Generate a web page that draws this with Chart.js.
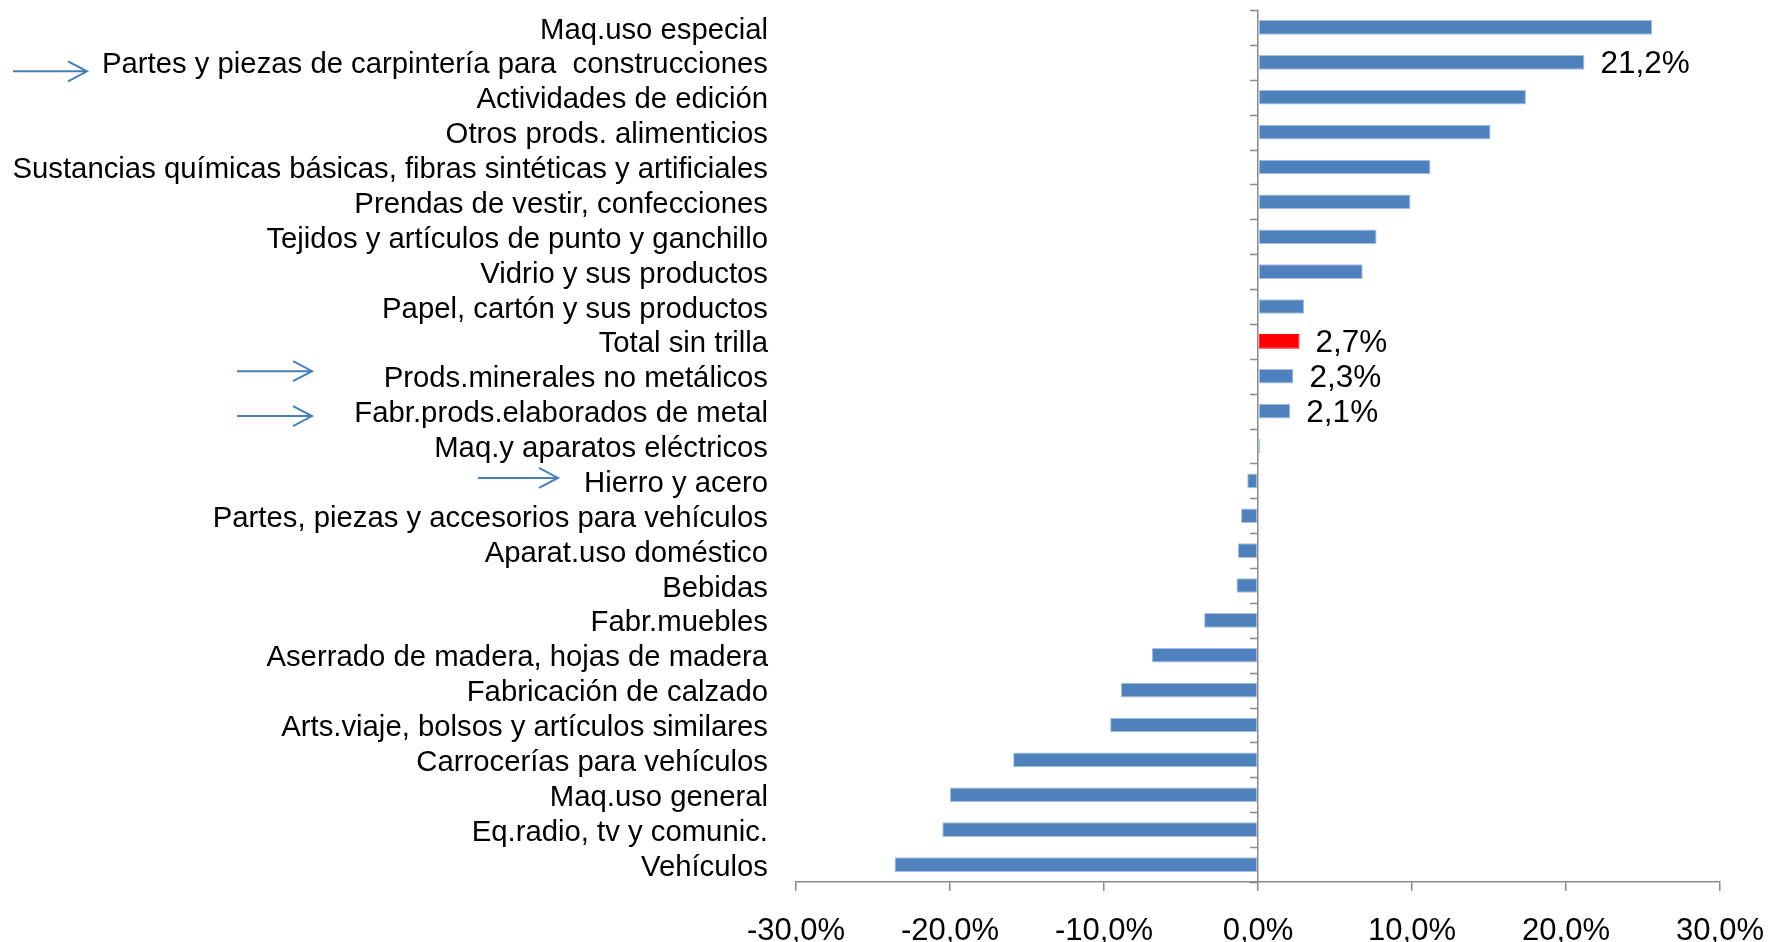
<!DOCTYPE html>
<html>
<head>
<meta charset="utf-8">
<title>Variación por actividad industrial</title>
<script src="https://cdn.jsdelivr.net/npm/chart.js@4.4.1/dist/chart.umd.min.js"></script>
<style>
  html, body { margin: 0; padding: 0; background: #fff; }
  #wrap { width: 1769px; height: 942px; }
</style>
</head>
<body>
<div id="wrap"><canvas id="chart" width="1769" height="942"></canvas></div>
<script>
// Data, top to bottom as in the chart
const categories = [
    'Maq.uso especial',
    'Partes y piezas de carpintería para  construcciones',
    'Actividades de edición',
    'Otros prods. alimenticios',
    'Sustancias químicas básicas, fibras sintéticas y artificiales',
    'Prendas de vestir, confecciones',
    'Tejidos y artículos de punto y ganchillo',
    'Vidrio y sus productos',
    'Papel, cartón y sus productos',
    'Total sin trilla',
    'Prods.minerales no metálicos',
    'Fabr.prods.elaborados de metal',
    'Maq.y aparatos eléctricos',
    'Hierro y acero',
    'Partes, piezas y accesorios para vehículos',
    'Aparat.uso doméstico',
    'Bebidas',
    'Fabr.muebles',
    'Aserrado de madera, hojas de madera',
    'Fabricación de calzado',
    'Arts.viaje, bolsos y artículos similares',
    'Carrocerías para vehículos',
    'Maq.uso general',
    'Eq.radio, tv y comunic.',
    'Vehículos'
];
const values = [
    25.6, 21.2, 17.4, 15.1, 11.2, 9.9, 7.7, 6.8, 3.0, 2.7, 2.3, 2.1, 0.15,
    -0.7, -1.1, -1.3, -1.4, -3.5, -6.9, -8.9, -9.6, -15.9, -20.0, -20.5, -23.6
];
const highlighted = ['Total sin trilla'];
const labelledBars = [
    'Partes y piezas de carpintería para  construcciones',
    'Total sin trilla',
    'Prods.minerales no metálicos',
    'Fabr.prods.elaborados de metal'
];
const arrowedRows = [
    'Partes y piezas de carpintería para  construcciones',
    'Prods.minerales no metálicos',
    'Fabr.prods.elaborados de metal',
    'Hierro y acero'
];
const xTicks = [-30, -20, -10, 0, 10, 20, 30];

const FONT = "'Liberation Sans', Arial, sans-serif";
const axisColor = '#8a8a8a';
const barBlue = '#4F81BD';
const arrowBlue = '#4A7EBB';

function pct(v) {
    return v.toFixed(1).replace('.', ',') + '%';
}

// Arrow annotations next to some category labels (pixel x span, offset from row centre)
const arrowShapes = [
    { x1: 13, x2: 87, dy: 9 },
    { x1: 237, x2: 312, dy: -5 },
    { x1: 237, x2: 312, dy: 5 },
    { x1: 478, x2: 558, dy: -3 }
];

const decorPlugin = {
    id: 'decor',
    afterDatasetsDraw(chart) {
        const { ctx, chartArea } = chart;
        const xs = chart.scales.x;
        const ys = chart.scales.y;
        const zero = xs.getPixelForValue(0);
        const meta = chart.getDatasetMeta(0);
        ctx.save();

        // small category tick marks on the zero axis
        ctx.strokeStyle = axisColor;
        ctx.lineWidth = 1.5;
        const step = (chartArea.bottom - chartArea.top) / categories.length;
        for (let i = 0; i <= categories.length; i++) {
            const py = Math.round(chartArea.top + i * step) + 0.5;
            ctx.beginPath();
            ctx.moveTo(zero - 8, py);
            ctx.lineTo(zero, py);
            ctx.stroke();
        }

        // value labels on selected bars
        ctx.fillStyle = '#000';
        ctx.font = '31.5px ' + FONT;
        ctx.textAlign = 'left';
        ctx.textBaseline = 'middle';
        labelledBars.forEach(name => {
            const i = categories.indexOf(name);
            const bar = meta.data[i];
            ctx.fillText(pct(values[i]), bar.x + 16, bar.y + 2);
        });

        // arrows
        ctx.strokeStyle = arrowBlue;
        ctx.lineWidth = 2;
        arrowedRows.forEach((name, k) => {
            const a = arrowShapes[k];
            const py = ys.getPixelForValue(categories.indexOf(name)) + a.dy;
            ctx.beginPath();
            ctx.moveTo(a.x1, py);
            ctx.lineTo(a.x2, py);
            ctx.moveTo(a.x2 - 19, py - 10);
            ctx.lineTo(a.x2, py);
            ctx.lineTo(a.x2 - 19, py + 10);
            ctx.stroke();
        });

        ctx.restore();
    }
};

const ctx = document.getElementById('chart').getContext('2d');
new Chart(ctx, {
    type: 'bar',
    data: {
        labels: categories,
        datasets: [{
            data: values,
            backgroundColor: categories.map(c => highlighted.includes(c) ? '#FF0000' : barBlue),
            borderColor: categories.map(c => highlighted.includes(c) ? '#FF0000' : '#A9C0DE'),
            borderWidth: 1,
            borderSkipped: false,
            categoryPercentage: 1,
            barPercentage: 0.42
        }]
    },
    options: {
        indexAxis: 'y',
        responsive: false,
        animation: false,
        devicePixelRatio: 1,
        layout: { padding: { top: 10, right: 49, left: 0, bottom: 0 } },
        plugins: {
            legend: { display: false },
            tooltip: { enabled: false }
        },
        scales: {
            x: {
                min: -30,
                max: 30,
                afterBuildTicks: s => { s.ticks = xTicks.map(v => ({ value: v })); },
                afterFit: s => {
                    s.height = 60;
                    s.paddingLeft = 0;
                    s.paddingRight = 0;
                },
                border: { display: true, color: axisColor, width: 1.5 },
                grid: {
                    color: c => (c.tick && c.tick.value === 0) ? axisColor : 'rgba(0,0,0,0)',
                    lineWidth: 1.5,
                    tickColor: axisColor,
                    tickLength: 9,
                    drawTicks: true
                },
                ticks: {
                    color: '#000',
                    font: { family: FONT, size: 31 },
                    padding: 22,
                    maxRotation: 0,
                    autoSkip: false,
                    callback: v => pct(v)
                }
            },
            y: {
                afterFit: s => {
                    s.width = 796;
                    s.paddingTop = 0;
                    s.paddingBottom = 0;
                },
                border: { display: false },
                grid: { display: false, drawTicks: false },
                ticks: {
                    color: '#000',
                    font: { family: FONT, size: 29.3 },
                    padding: 28,
                    labelOffset: 3,
                    autoSkip: false
                }
            }
        }
    },
    plugins: [decorPlugin]
});
</script>
</body>
</html>
